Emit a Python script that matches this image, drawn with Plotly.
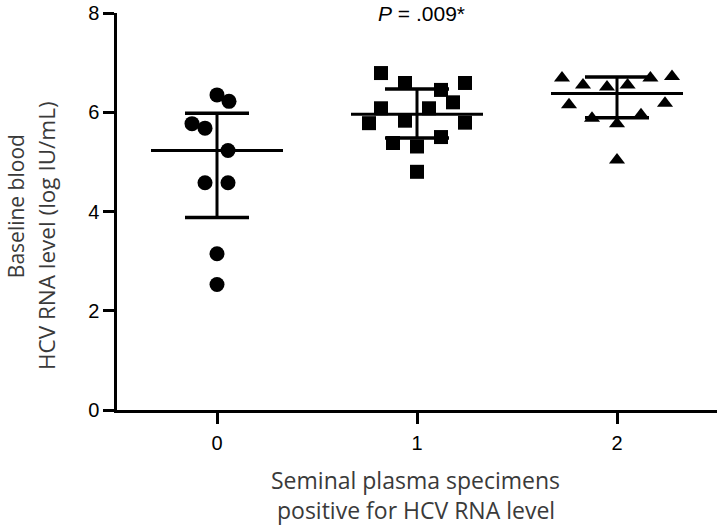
import plotly.graph_objects as go

# ---- data ----
groups = [0, 1, 2]
tick_labels = ["0", "1", "2"]

g0_values = [6.35, 6.22, 5.77, 5.68, 5.23, 4.58, 4.58, 3.15, 2.53]
g0_jitter = [0.0, 0.06, -0.125, -0.06, 0.055, -0.06, 0.055, 0.0, 0.0]

g1_values = [6.79, 6.59, 6.45, 6.59, 6.20, 6.08, 6.08, 5.78, 5.83, 5.79, 5.38, 5.50, 5.31, 4.80]
g1_jitter = [-0.18, -0.06, 0.12, 0.24, 0.18, -0.18, 0.06, -0.24, -0.06, 0.24, -0.12, 0.12, 0.0, 0.0]

g2_values = [6.69, 6.55, 6.51, 6.55, 6.69, 6.72, 6.15, 6.18, 5.88, 5.95, 5.77, 5.04]
g2_jitter = [-0.275, -0.17, -0.05, 0.053, 0.167, 0.275, -0.24, 0.24, -0.125, 0.12, 0.0, 0.0]

centers = [5.23, 5.96, 6.38]
upper = [5.98, 6.47, 6.71]
lower = [3.88, 5.48, 5.89]

p_text = "<i>P</i> = .009*"

fig = go.Figure()

mean_half = 0.33
cap_half = 0.16
for g, c, u, lo in zip(groups, centers, upper, lower):
    fig.add_trace(go.Scatter(x=[g - mean_half, g + mean_half], y=[c, c], mode="lines",
                             line=dict(color="black", width=3), showlegend=False, hoverinfo="skip"))
    fig.add_trace(go.Scatter(x=[g, g], y=[lo, u], mode="lines",
                             line=dict(color="black", width=3), showlegend=False, hoverinfo="skip"))
    for yv in (u, lo):
        fig.add_trace(go.Scatter(x=[g - cap_half, g + cap_half], y=[yv, yv], mode="lines",
                                 line=dict(color="black", width=3.5), showlegend=False, hoverinfo="skip"))

series = [
    (groups[0], g0_values, g0_jitter, "circle", 15),
    (groups[1], g1_values, g1_jitter, "square", 14),
    (groups[2], g2_values, g2_jitter, "triangle-up", 14),
]
for g, vals, jit, sym, sz in series:
    fig.add_trace(go.Scatter(
        x=[g + j for j in jit], y=vals, mode="markers",
        marker=dict(symbol=sym, size=sz, color="black", line=dict(width=0)),
        showlegend=False))

axis_font = dict(family="Liberation Sans, Arial", size=20, color="black")
title_color = "#3a3a3a"

fig.update_layout(
    width=720, height=527,
    margin=dict(l=117, r=3, t=13, b=117),
    plot_bgcolor="white", paper_bgcolor="white",
    xaxis=dict(range=[-0.5, 2.5], tickvals=groups, ticktext=tick_labels,
               showline=True, linecolor="black", linewidth=2.5,
               ticks="outside", ticklen=11, tickwidth=2.5, tickcolor="black",
               showgrid=False, zeroline=False, tickfont=axis_font, ticklabelstandoff=2),
    yaxis=dict(range=[0, 8], tickvals=[0, 2, 4, 6, 8],
               showline=True, linecolor="black", linewidth=2.5,
               ticks="outside", ticklen=11, tickwidth=2.5, tickcolor="black",
               showgrid=False, zeroline=False, tickfont=axis_font),
)

fig.add_annotation(text="Seminal plasma specimens", xref="paper", yref="paper",
                   x=0.498, y=-0.176, showarrow=False,
                   font=dict(family="Open Sans", size=23, color=title_color),
                   xanchor="center", yanchor="middle")
fig.add_annotation(text="positive for HCV RNA level", xref="paper", yref="paper",
                   x=0.498, y=-0.252, showarrow=False,
                   font=dict(family="Open Sans", size=23, color=title_color),
                   xanchor="center", yanchor="middle")
fig.add_annotation(text="Baseline blood", xref="paper", yref="paper",
                   x=-0.168, y=0.514, textangle=-90, showarrow=False,
                   font=dict(family="Open Sans", size=21, color=title_color),
                   xanchor="center", yanchor="middle")
fig.add_annotation(text="HCV RNA level (log IU/mL)", xref="paper", yref="paper",
                   x=-0.117, y=0.44, textangle=-90, showarrow=False,
                   font=dict(family="Open Sans", size=22.5, color=title_color),
                   xanchor="center", yanchor="middle")
fig.add_annotation(text=p_text, xref="x", yref="paper",
                   x=groups[1] + 0.02, y=1.0, showarrow=False,
                   font=dict(family="Liberation Sans, Arial", size=21, color="black"),
                   xanchor="center", yanchor="middle")

fig.write_html("out.html", config={"displayModeBar": False},
               post_script="document.body.style.margin='0';document.body.style.padding='0';")
